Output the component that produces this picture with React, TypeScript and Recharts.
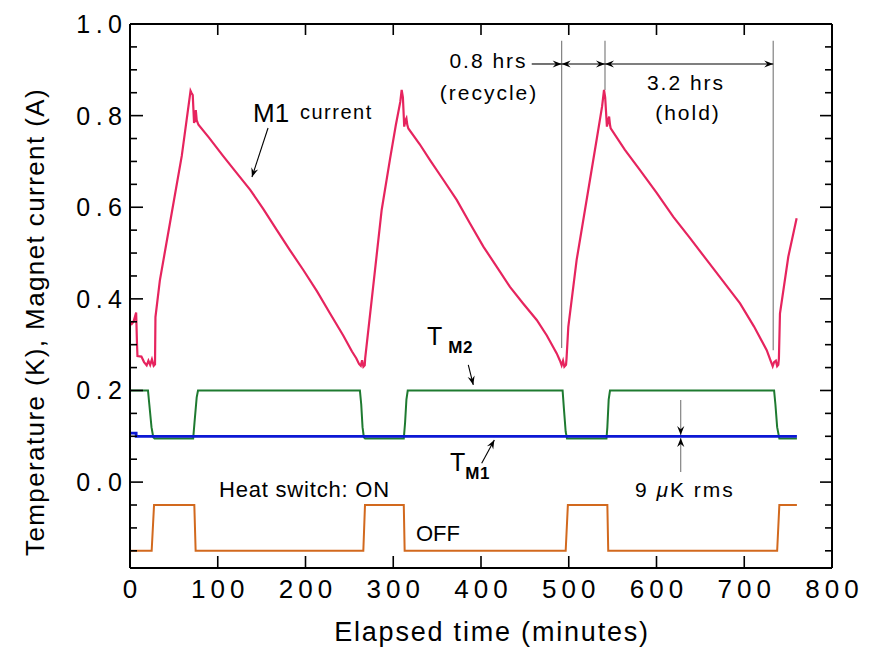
import React from 'react';
import { LineChart, Line, XAxis, YAxis, ReferenceLine, ReferenceDot, Label } from 'recharts';

const FONT = '"Liberation Sans", Arial, Helvetica, sans-serif';

// ---- axis ticks ----
const xTicks = [0, 100, 200, 300, 400, 500, 600, 700, 800];
const yTicks = [-0.15, -0.1, -0.05, 0, 0.05, 0.1, 0.15, 0.2, 0.25, 0.3, 0.35, 0.4, 0.45, 0.5, 0.55, 0.6, 0.65, 0.7, 0.75, 0.8, 0.85, 0.9, 0.95, 1.0];
const yLabelTicks = [0, 0.2, 0.4, 0.6, 0.8, 1.0];
const xDomain = [0, 800];
const yDomain = [-0.1875, 1.0];

// ---- series: [elapsed minutes, value] ----
const m1Current: number[][] = [
  [0, 0.35], [2, 0.345], [4, 0.35], [7, 0.37], [8, 0.3], [8.5, 0.275], [13, 0.274], [16, 0.262], [19, 0.255],
  [21, 0.265], [23, 0.256], [25, 0.268], [27, 0.254], [28.5, 0.257], [29, 0.36], [34, 0.44], [45.5, 0.565],
  [59, 0.712], [64.5, 0.79], [68, 0.84], [69, 0.854], [70, 0.85], [71.5, 0.845], [73, 0.784], [74, 0.79],
  [75, 0.812], [76, 0.79], [78, 0.78], [90, 0.752], [106, 0.712], [121, 0.676], [137, 0.638], [152, 0.596],
  [167, 0.551], [182, 0.507], [197.5, 0.463], [213, 0.417], [228, 0.368], [243, 0.32], [253, 0.285], [258, 0.27],
  [261, 0.258], [263, 0.254], [264.5, 0.266], [266, 0.252], [267.5, 0.255], [268, 0.27], [275.4, 0.397],
  [286.8, 0.594], [296.3, 0.705], [303, 0.78], [308, 0.83], [309.6, 0.856], [311, 0.84], [312.5, 0.776],
  [314, 0.79], [315, 0.794], [316, 0.78], [317.2, 0.772], [330, 0.738], [341.9, 0.703], [357, 0.66],
  [372.3, 0.616], [387, 0.566], [402.7, 0.514], [418, 0.47], [433, 0.426], [448, 0.39], [463.5, 0.354],
  [475, 0.32], [486.3, 0.281], [490, 0.265], [491.9, 0.255], [493.5, 0.265], [495, 0.252], [496.9, 0.256],
  [497.5, 0.27], [499.5, 0.339], [509, 0.485], [524.2, 0.66], [532, 0.75], [538, 0.82], [540.2, 0.856],
  [541.5, 0.84], [543.5, 0.776], [545, 0.79], [546, 0.798], [547, 0.78], [547.8, 0.772], [564, 0.725],
  [581.2, 0.681], [600, 0.632], [619.2, 0.579], [638, 0.533], [657.2, 0.485], [676, 0.438], [695.2, 0.39],
  [711, 0.34], [725.6, 0.288], [730, 0.265], [732.4, 0.253], [734, 0.262], [736, 0.265], [737.5, 0.253],
  [738.8, 0.256], [739.5, 0.27], [740.7, 0.368], [750.2, 0.492], [759.7, 0.576],
];

const tM2: number[][] = [
  [0, 0.2], [20.5, 0.2], [22, 0.17], [24.5, 0.12], [26.5, 0.098], [28, 0.095], [72, 0.095], [73.5, 0.13],
  [76, 0.185], [77.5, 0.2], [262, 0.2], [263.5, 0.17], [265, 0.12], [266.5, 0.098], [268, 0.095], [312, 0.095],
  [313.5, 0.13], [315, 0.18], [316.5, 0.2], [493, 0.2], [494.5, 0.16], [496.5, 0.11], [498, 0.095], [543, 0.095],
  [544, 0.12], [545.5, 0.18], [547, 0.2], [734, 0.2], [735.5, 0.17], [737.5, 0.12], [740, 0.095], [760, 0.095],
];

const tM1: number[][] = [[0, 0.107], [7, 0.107], [7, 0.1], [760, 0.1]];

const heatSwitch: number[][] = [
  [0, -0.15], [24.7, -0.15], [27.4, -0.05], [73.3, -0.05], [74.8, -0.15], [265.9, -0.15], [267.8, -0.05],
  [312, -0.05], [313, -0.15], [496.5, -0.15], [499, -0.05], [544, -0.05], [545, -0.15], [737.5, -0.15],
  [740, -0.05], [760, -0.05],
];

// ---- annotations (data coordinates) ----
const guideLines = [
  { t: 491.9, from: 0.9636, to: 0.293 },
  { t: 541.3, from: 0.9636, to: 0.856 },
  { t: 733, from: 0.9636, to: 0.288 },
];

const arrows = [
  { x1: 457.8, y1: 0.9127, x2: 491.9, y2: 0.9127, start: false, end: true, color: '#000' },
  { x1: 491.9, y1: 0.9127, x2: 541.3, y2: 0.9127, start: true, end: true, color: '#000' },
  { x1: 541.3, y1: 0.9127, x2: 733, y2: 0.9127, start: true, end: true, color: '#000' },
  { x1: 157.3, y1: 0.773, x2: 139.0, y2: 0.666, start: false, end: true, color: '#000' },
  { x1: 385.5, y1: 0.256, x2: 391.2, y2: 0.212, start: false, end: true, color: '#000' },
  { x1: 400.8, y1: 0.041, x2: 415.2, y2: 0.092, start: false, end: true, color: '#000' },
  { x1: 627.6, y1: 0.179, x2: 627.6, y2: 0.1026, start: false, end: true, color: '#777' },
  { x1: 627.6, y1: 0.022, x2: 627.6, y2: 0.0962, start: false, end: true, color: '#777' },
];

const texts = [
  { t: 407.4, v: 0.903, text: '0.8 hrs', size: 21, anchor: 'middle', spacing: 2 },
  { t: 408, v: 0.834, text: '(recycle)', size: 21, anchor: 'middle', spacing: 2 },
  { t: 632.5, v: 0.856, text: '3.2 hrs', size: 21, anchor: 'middle', spacing: 2 },
  { t: 634.8, v: 0.79, text: '(hold)', size: 21, anchor: 'middle', spacing: 2 },
  { t: 140.2, v: 0.787, text: 'M1', size: 26, anchor: 'start', spacing: 0 },
  { t: 193.7, v: 0.793, text: 'current', size: 20, anchor: 'start', spacing: 1.5 },
  { t: 101.4, v: -0.032, text: 'Heat switch: ON', size: 22, anchor: 'start', spacing: 0.8 },
  { t: 325.9, v: -0.128, text: 'OFF', size: 22, anchor: 'start', spacing: 0 },
];

const subLabels = [
  { t: 338.5, v: 0.299, main: 'T', sub: 'M2', dx: 6 },
  { t: 364.7, v: 0.0242, main: 'T', sub: 'M1', dx: 0 },
];

const toPts = (arr: number[][]) => arr.map(([t, v]) => ({ t, v }));

const isLabelTick = (v: number) => yLabelTicks.some((m) => Math.abs(m - v) < 1e-6);

const LeftTick = (p: any) => {
  const v = p.payload.value;
  const major = isLabelTick(v);
  return (
    <g>
      <line x1={p.x} x2={p.x + (major ? 13 : 7)} y1={p.y} y2={p.y} stroke="#000" strokeWidth={1.6} />
      {major && (
        <text x={p.x - 8 + 5.5} y={p.y} dy="0.36em" textAnchor="end" fontSize={25} fontFamily={FONT} fill="#000" style={{ letterSpacing: '5.5px' }}>
          {v.toFixed(1)}
        </text>
      )}
    </g>
  );
};

const RightTick = (p: any) => {
  const v = p.payload.value;
  const major = isLabelTick(v);
  return <line x1={p.x} x2={p.x - (major ? 12 : 7)} y1={p.y} y2={p.y} stroke="#000" strokeWidth={1.6} />;
};

const BottomTick = (p: any) => (
  <g>
    <line x1={p.x} x2={p.x} y1={p.y} y2={p.y - 12} stroke="#000" strokeWidth={1.6} />
    <text x={p.x + 2.5} y={p.y + 12} dy="0.71em" textAnchor="middle" fontSize={26} fontFamily={FONT} fill="#000" style={{ letterSpacing: '5px' }}>
      {p.payload.value}
    </text>
  </g>
);

const TopTick = (p: any) => <line x1={p.x} x2={p.x} y1={p.y} y2={p.y + 11} stroke="#000" strokeWidth={1.6} />;

function head(x: number, y: number, fx: number, fy: number, color: string) {
  const dx = x - fx;
  const dy = y - fy;
  const d = Math.hypot(dx, dy) || 1;
  const ux = dx / d;
  const uy = dy / d;
  const len = 9;
  const half = 3.6;
  const bx = x - ux * len;
  const by = y - uy * len;
  const nx = -uy;
  const ny = ux;
  const mx = x - ux * len * 0.65;
  const my = y - uy * len * 0.65;
  return (
    <polygon
      points={`${x},${y} ${bx + nx * half},${by + ny * half} ${mx},${my} ${bx - nx * half},${by - ny * half}`}
      fill="#000"
    />
  );
}

const axisLine = { stroke: '#000', strokeWidth: 2 };

export default function App() {
  return (
    <LineChart width={873} height={641} margin={{ top: 0, right: 0, bottom: 0, left: 0 }}>
      <XAxis
        xAxisId="b"
        dataKey="t"
        type="number"
        orientation="bottom"
        domain={xDomain}
        ticks={xTicks}
        interval={0}
        allowDataOverflow
        height={81}
        tickSize={0}
        tickMargin={0}
        tickLine={false}
        axisLine={axisLine}
        tick={BottomTick}
      >
        <Label
          content={(props: any) => {
            const vb = props.viewBox;
            return (
              <text x={vb.x + vb.width / 2 + 11} y={vb.y + 73} textAnchor="middle" fontSize={27} fontFamily={FONT} fill="#000" style={{ letterSpacing: '1.8px' }}>
                Elapsed time (minutes)
              </text>
            );
          }}
        />
      </XAxis>
      <XAxis
        xAxisId="top"
        dataKey="t"
        type="number"
        orientation="top"
        domain={xDomain}
        ticks={xTicks}
        interval={0}
        allowDataOverflow
        height={16}
        tickSize={0}
        tickMargin={0}
        tickLine={false}
        axisLine={axisLine}
        tick={TopTick}
      />
      <YAxis
        yAxisId="l"
        type="number"
        orientation="left"
        domain={yDomain}
        ticks={yTicks}
        interval={0}
        allowDataOverflow
        width={122}
        tickSize={0}
        tickMargin={0}
        tickLine={false}
        axisLine={axisLine}
        tick={LeftTick}
      >
        <Label
          content={(props: any) => {
            const vb = props.viewBox;
            const cx = 27;
            const cy = vb.y + vb.height / 2 + 26;
            return (
              <text x={cx} y={cy} dy="0.35em" transform={`rotate(-90 ${cx} ${cy})`} textAnchor="middle" fontSize={26} fontFamily={FONT} fill="#000" style={{ letterSpacing: '1.4px' }}>
                Temperature (K), Magnet current (A)
              </text>
            );
          }}
        />
      </YAxis>
      <YAxis
        yAxisId="r"
        type="number"
        orientation="right"
        domain={yDomain}
        ticks={yTicks}
        interval={0}
        allowDataOverflow
        width={49}
        tickSize={0}
        tickMargin={0}
        tickLine={false}
        axisLine={axisLine}
        tick={RightTick}
      />

      {guideLines.map((g, i) => (
        <ReferenceLine
          key={'g' + i}
          xAxisId="b"
          yAxisId="l"
          segment={[{ x: g.t, y: g.from }, { x: g.t, y: g.to }]}
          stroke="#808080"
          strokeWidth={1.2}
        />
      ))}

      <Line data={toPts(heatSwitch)} dataKey="v" xAxisId="b" yAxisId="l" type="linear" dot={false} stroke="#d2691e" strokeWidth={2} isAnimationActive={false} />
      <Line data={toPts(m1Current)} dataKey="v" xAxisId="b" yAxisId="l" type="linear" dot={false} stroke="#e6245e" strokeWidth={2.2} isAnimationActive={false} />
      <Line data={toPts(tM2)} dataKey="v" xAxisId="b" yAxisId="l" type="linear" dot={false} stroke="#1e7a30" strokeWidth={2} isAnimationActive={false} />
      <Line data={toPts(tM1)} dataKey="v" xAxisId="b" yAxisId="l" type="linear" dot={false} stroke="#0c18d4" strokeWidth={2.8} isAnimationActive={false} />

      {arrows.map((a, i) => (
        <ReferenceLine
          key={'a' + i}
          xAxisId="b"
          yAxisId="l"
          segment={[{ x: a.x1, y: a.y1 }, { x: a.x2, y: a.y2 }]}
          shape={(p: any) => (
            <g>
              <line x1={p.x1} y1={p.y1} x2={p.x2} y2={p.y2} stroke={a.color} strokeWidth={1.1} />
              {a.end && head(p.x2, p.y2, p.x1, p.y1, a.color)}
              {a.start && head(p.x1, p.y1, p.x2, p.y2, a.color)}
            </g>
          )}
        />
      ))}

      {texts.map((tx, i) => (
        <ReferenceDot
          key={'t' + i}
          xAxisId="b"
          yAxisId="l"
          x={tx.t}
          y={tx.v}
          r={0}
          shape={(p: any) => (
            <text
              x={p.cx + (tx.anchor === 'middle' ? tx.spacing / 2 : 0)}
              y={p.cy}
              textAnchor={tx.anchor as any}
              fontSize={tx.size}
              fontFamily={FONT}
              fill="#000"
              style={{ letterSpacing: tx.spacing + 'px' }}
            >
              {tx.text}
            </text>
          )}
        />
      ))}

      <ReferenceDot
        xAxisId="b"
        yAxisId="l"
        x={575.5}
        y={-0.032}
        r={0}
        shape={(p: any) => (
          <text x={p.cx} y={p.cy} fontSize={21} fontFamily={FONT} fill="#000" style={{ letterSpacing: '2px' }}>
            9 <tspan fontStyle="italic">μ</tspan>K rms
          </text>
        )}
      />

      {subLabels.map((s, i) => (
        <ReferenceDot
          key={'s' + i}
          xAxisId="b"
          yAxisId="l"
          x={s.t}
          y={s.v}
          r={0}
          shape={(p: any) => (
            <text x={p.cx} y={p.cy} fontSize={25} fontFamily={FONT} fill="#000">
              {s.main}
              <tspan fontSize={17} fontWeight="bold" dx={s.dx} dy={8} style={{ letterSpacing: '0.5px' }}>
                {s.sub}
              </tspan>
            </text>
          )}
        />
      ))}
    </LineChart>
  );
}
